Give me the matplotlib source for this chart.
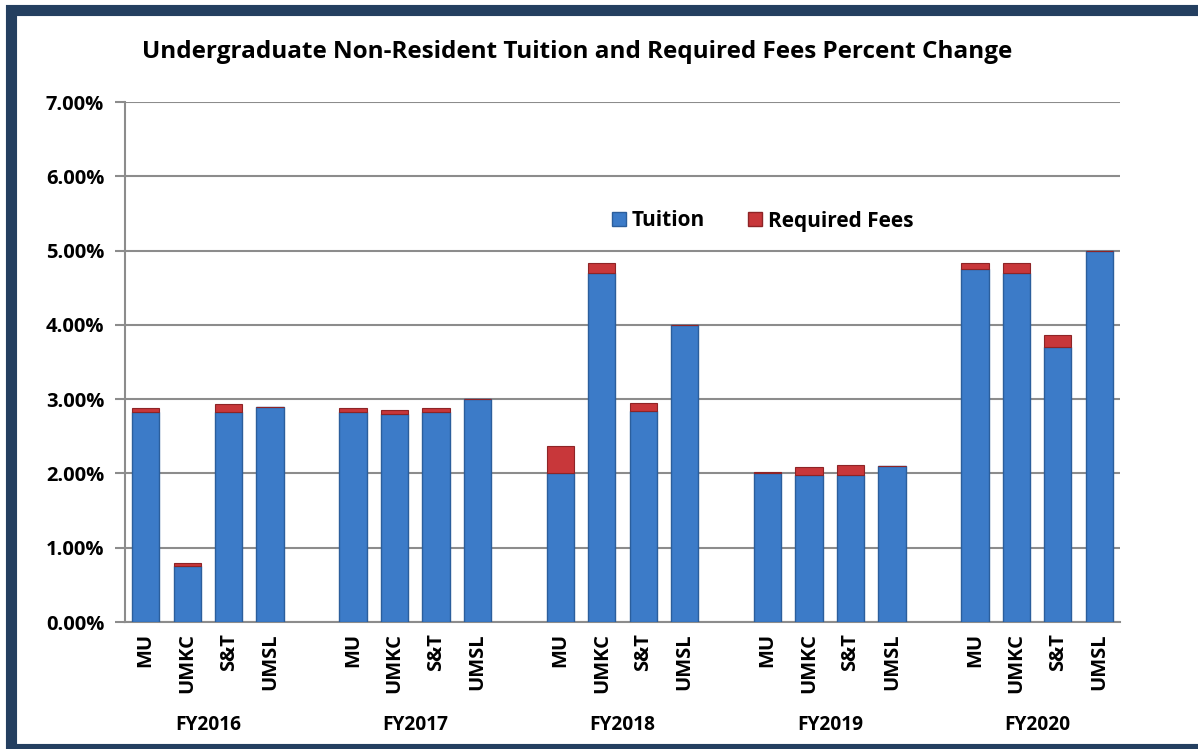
import numpy as np
import matplotlib.pyplot as plt
from matplotlib.patches import Rectangle
from matplotlib.lines import Line2D

plt.rcParams['font.family'] = ['Open Sans', 'DejaVu Sans']
plt.rcParams['font.weight'] = 'bold'

# data (percent)
years = ['FY2016', 'FY2017', 'FY2018', 'FY2019', 'FY2020']
campuses = ['MU', 'UMKC', 'S&T', 'UMSL']
tuition = [
    [2.83, 0.75, 2.83, 2.90],
    [2.83, 2.80, 2.83, 3.00],
    [2.00, 4.70, 2.84, 4.00],
    [2.00, 1.98, 1.98, 2.10],
    [4.75, 4.70, 3.70, 5.00],
]
fees = [
    [0.05, 0.05, 0.11, 0.00],
    [0.05, 0.05, 0.05, 0.00],
    [0.37, 0.13, 0.11, 0.00],
    [0.02, 0.11, 0.13, 0.00],
    [0.08, 0.13, 0.17, 0.00],
]

blue = '#3C7BC8'
blue_edge = '#2B5E9C'
red = '#C8373A'
red_edge = '#8E2426'

fig = plt.figure(figsize=(11.98, 7.49), dpi=100)
ax = fig.add_axes([125 / 1198, 1 - 622 / 749, (1120 - 125) / 1198, (622 - 102) / 749])

xs, labels, tu, fe = [], [], [], []
for g in range(len(years)):
    for i, c in enumerate(campuses):
        xs.append(g * 5 + i)
        labels.append(c)
        tu.append(tuition[g][i])
        fe.append(fees[g][i])
xs = np.array(xs)
tu = np.array(tu)
fe = np.array(fe)

w = 0.66
ax.bar(xs, tu, width=w, color=blue, edgecolor=blue_edge, linewidth=1.0, zorder=3)
ax.bar(xs, fe, width=w, bottom=tu, color=red, edgecolor=red_edge, linewidth=0.8, zorder=3)

ax.set_xlim(-0.5, 23.5)
ax.set_ylim(0, 7)
yt = np.arange(0, 7.01, 1)
ax.set_yticks(yt)
ax.set_yticklabels([f'{v:.2f}%' for v in yt], fontsize=14.5, fontweight='bold')
ax.yaxis.grid(True, color='#8C8C8C', linewidth=1.5, zorder=0)
ax.tick_params(axis='y', length=7, width=1.5, color='#8C8C8C', pad=8)

ax.set_xticks(xs)
ax.set_xticklabels(labels, rotation=90, fontsize=14.5, fontweight='bold')
ax.tick_params(axis='x', length=0, pad=8)

for s in ['top', 'right']:
    ax.spines[s].set_visible(False)
for s in ['left', 'bottom']:
    ax.spines[s].set_color('#8C8C8C')
    ax.spines[s].set_linewidth(1.5)

# group labels under the campus names
for g, yr in enumerate(years):
    xc = ax.transData.transform((g * 5 + 1.5, 0))[0] / fig.bbox.width
    fig.text(xc, 1 - 725 / 749, yr, ha='center', va='center', fontsize=13.8, fontweight='bold')

fig.text(577 / 1198, 1 - 52 / 749,
         'Undergraduate Non-Resident Tuition and Required Fees Percent Change',
         ha='center', va='center', fontsize=17.5, fontweight='bold')

handles = [Line2D([], [], marker='s', linestyle='none', markersize=10.5,
                  markerfacecolor=blue, markeredgecolor=blue_edge),
           Line2D([], [], marker='s', linestyle='none', markersize=10.5,
                  markerfacecolor=red, markeredgecolor=red_edge)]
fig.legend(handles, ['Tuition', 'Required Fees'], loc='center',
           bbox_to_anchor=(760 / 1198, 1 - 221 / 749), ncol=2, frameon=False,
           prop={'weight': 'bold', 'size': 15}, handletextpad=0.0, columnspacing=1.8,
           handlelength=1.2)

# outer frame (right side runs off the image)
fig.patches.append(Rectangle((11 / 1198, 0), 1.2, 1 - 10 / 749,
                             transform=fig.transFigure, fill=False,
                             edgecolor='#243F60', linewidth=8))

fig.savefig('out.png', dpi=100)
